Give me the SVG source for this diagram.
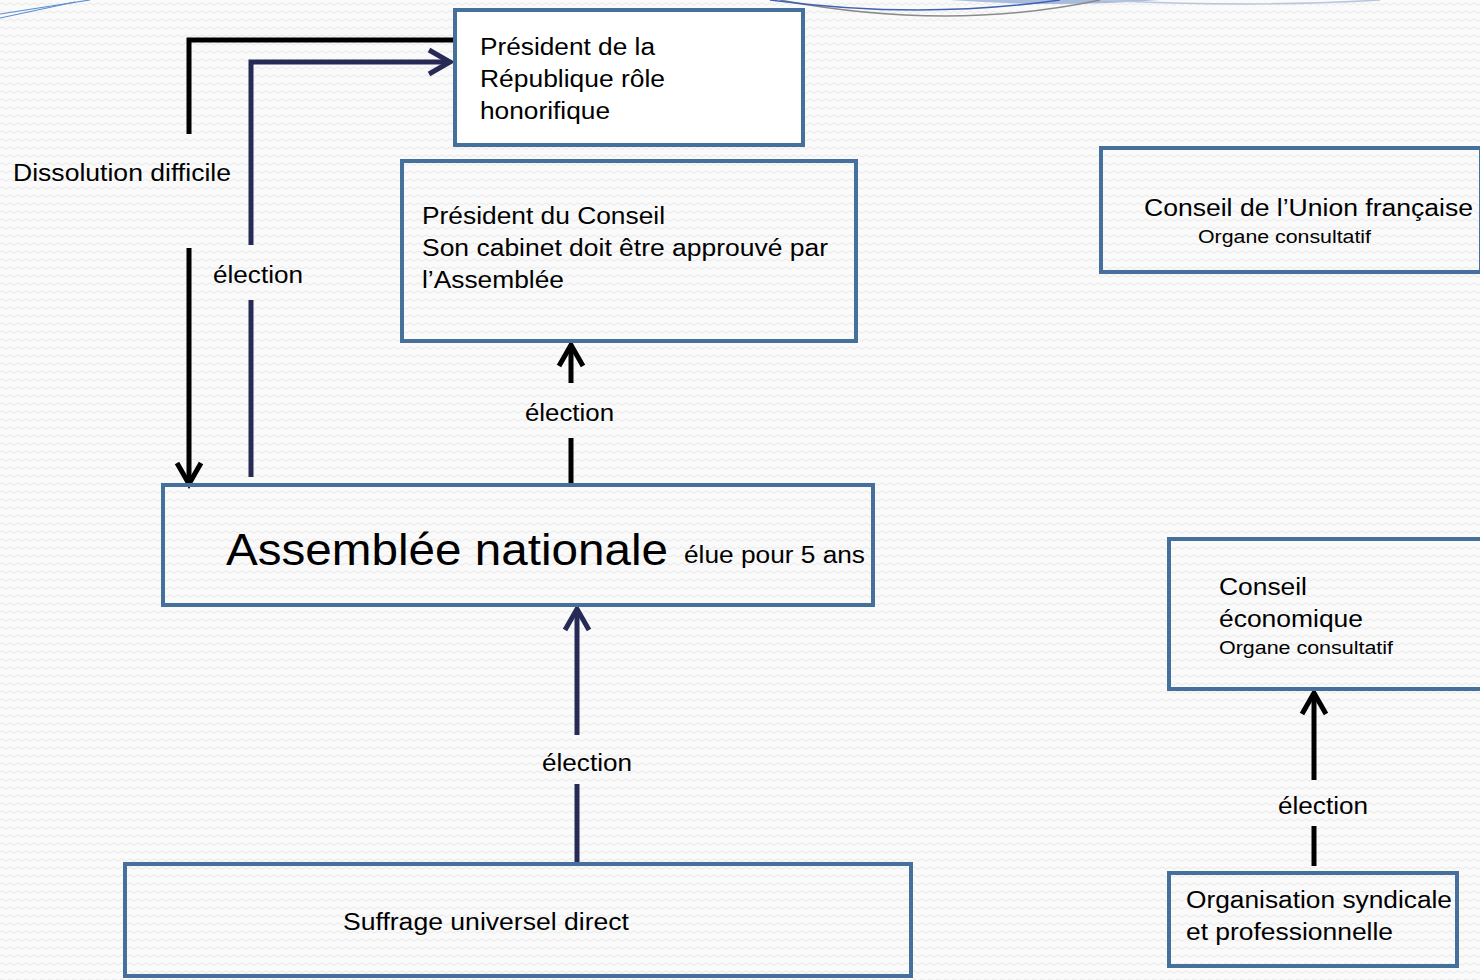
<svg xmlns="http://www.w3.org/2000/svg" width="1480" height="980" viewBox="0 0 1480 980">
  <defs>
    <pattern id="bg" width="8" height="8" patternUnits="userSpaceOnUse">
      <rect width="8" height="8" fill="#fafafa"/>
      <path d="M0,4 Q2,1.5 4,4 T8,4" fill="none" stroke="#e8e8e8" stroke-width="1"/>
    </pattern>
    <marker id="ahB" markerUnits="userSpaceOnUse" markerWidth="30" markerHeight="30" viewBox="-24 -15 28 30" refX="0" refY="0" orient="auto">
      <path d="M-21,-12 L0,0 L-21,12" fill="none" stroke="#000" stroke-width="5"/>
    </marker>
    <marker id="ahN" markerUnits="userSpaceOnUse" markerWidth="30" markerHeight="30" viewBox="-24 -15 28 30" refX="0" refY="0" orient="auto">
      <path d="M-21,-12 L0,0 L-21,12" fill="none" stroke="#272a55" stroke-width="5"/>
    </marker>
  </defs>
  <style>
    .box { fill: none; stroke: #46709c; stroke-width: 4; }
    .t { font-family: "Liberation Sans", Arial, sans-serif; fill: #000; }
    .m { font-size: 23px; }
    .s { font-size: 18px; }
    .cb { fill: none; stroke: #000; stroke-width: 5; }
    .cn { fill: none; stroke: #272a55; stroke-width: 5; }
  </style>
  <rect width="1480" height="980" fill="url(#bg)"/>

  <g id="decor">
    <path d="M0,14 L90,0" fill="none" stroke="#5b8fd0" stroke-width="1.2"/>
    <path d="M0,18 L75,2" fill="none" stroke="#5b8fd0" stroke-width="1.2"/>
    <path d="M950,0 Q1060,8 1160,0 Z" fill="#a9bcdc"/>
    <path d="M780,0 Q950,32 1100,0" fill="none" stroke="#8a8a8a" stroke-width="1.5"/>
    <path d="M770,0 Q920,20 1060,0" fill="none" stroke="#3f62b4" stroke-width="1.5"/>
    <path d="M1100,0 Q1250,8 1380,0" fill="none" stroke="#b8c6de" stroke-width="1.5"/>
  </g>

  <g id="connectors">
    <path class="cb" d="M189,134 L189,40 L454,40"/>
    <path class="cb" d="M189,248 L189,484" marker-end="url(#ahB)"/>
    <path class="cn" d="M251,477 L251,300"/>
    <path class="cn" d="M251,245 L251,62 L450,62" marker-end="url(#ahN)"/>
    <path class="cb" d="M571,484 L571,438"/>
    <path class="cb" d="M571,383 L571,345" marker-end="url(#ahB)"/>
    <path class="cn" d="M577,863 L577,784"/>
    <path class="cn" d="M577,735 L577,609" marker-end="url(#ahN)"/>
    <path class="cb" d="M1314,866 L1314,826"/>
    <path class="cb" d="M1314,780 L1314,693" marker-end="url(#ahB)"/>
    <text class="t m" x="13" y="181" textLength="218" lengthAdjust="spacingAndGlyphs">Dissolution difficile</text>
    <text class="t m" x="213" y="283" textLength="90" lengthAdjust="spacingAndGlyphs">élection</text>
    <text class="t m" x="525" y="421" textLength="89" lengthAdjust="spacingAndGlyphs">élection</text>
    <text class="t m" x="542" y="771" textLength="90" lengthAdjust="spacingAndGlyphs">élection</text>
    <text class="t m" x="1278" y="814" textLength="90" lengthAdjust="spacingAndGlyphs">élection</text>
  </g>

  <g id="president-republique">
    <rect x="455" y="10" width="348" height="135" fill="#fff" stroke="#46709c" stroke-width="4"/>
    <text class="t m" x="480" y="55" textLength="175" lengthAdjust="spacingAndGlyphs">Président de la</text>
    <text class="t m" x="480" y="87" textLength="185" lengthAdjust="spacingAndGlyphs">République rôle</text>
    <text class="t m" x="480" y="119" textLength="130" lengthAdjust="spacingAndGlyphs">honorifique</text>
  </g>

  <g id="president-conseil">
    <rect class="box" x="402" y="161" width="454" height="180"/>
    <text class="t m" x="422" y="224" textLength="243" lengthAdjust="spacingAndGlyphs">Président du Conseil</text>
    <text class="t m" x="422" y="256" textLength="406" lengthAdjust="spacingAndGlyphs">Son cabinet doit être approuvé par</text>
    <text class="t m" x="422" y="288" textLength="142" lengthAdjust="spacingAndGlyphs">l’Assemblée</text>
  </g>

  <g id="conseil-union">
    <rect class="box" x="1101" y="148" width="380" height="124"/>
    <text class="t m" x="1144" y="216" textLength="329" lengthAdjust="spacingAndGlyphs">Conseil de l’Union française</text>
    <text class="t s" x="1198" y="243" textLength="173" lengthAdjust="spacingAndGlyphs">Organe consultatif</text>
  </g>

  <g id="assemblee">
    <rect class="box" x="163" y="485" width="710" height="120"/>
    <text class="t" x="226" y="565" font-size="44" textLength="442" lengthAdjust="spacingAndGlyphs">Assemblée nationale</text>
    <text class="t m" x="684" y="563" textLength="181" lengthAdjust="spacingAndGlyphs">élue pour 5 ans</text>
  </g>

  <g id="conseil-economique">
    <rect class="box" x="1169" y="539" width="315" height="150"/>
    <text class="t m" x="1219" y="595" textLength="88" lengthAdjust="spacingAndGlyphs">Conseil</text>
    <text class="t m" x="1219" y="627" textLength="144" lengthAdjust="spacingAndGlyphs">économique</text>
    <text class="t s" x="1219" y="654" textLength="174" lengthAdjust="spacingAndGlyphs">Organe consultatif</text>
  </g>

  <g id="suffrage">
    <rect class="box" x="125" y="864" width="786" height="112"/>
    <text class="t m" x="343" y="930" textLength="286" lengthAdjust="spacingAndGlyphs">Suffrage universel direct</text>
  </g>

  <g id="organisation">
    <rect class="box" x="1169" y="873" width="288" height="93"/>
    <text class="t m" x="1186" y="908" textLength="266" lengthAdjust="spacingAndGlyphs">Organisation syndicale</text>
    <text class="t m" x="1186" y="940" textLength="207" lengthAdjust="spacingAndGlyphs">et professionnelle</text>
  </g>
</svg>
